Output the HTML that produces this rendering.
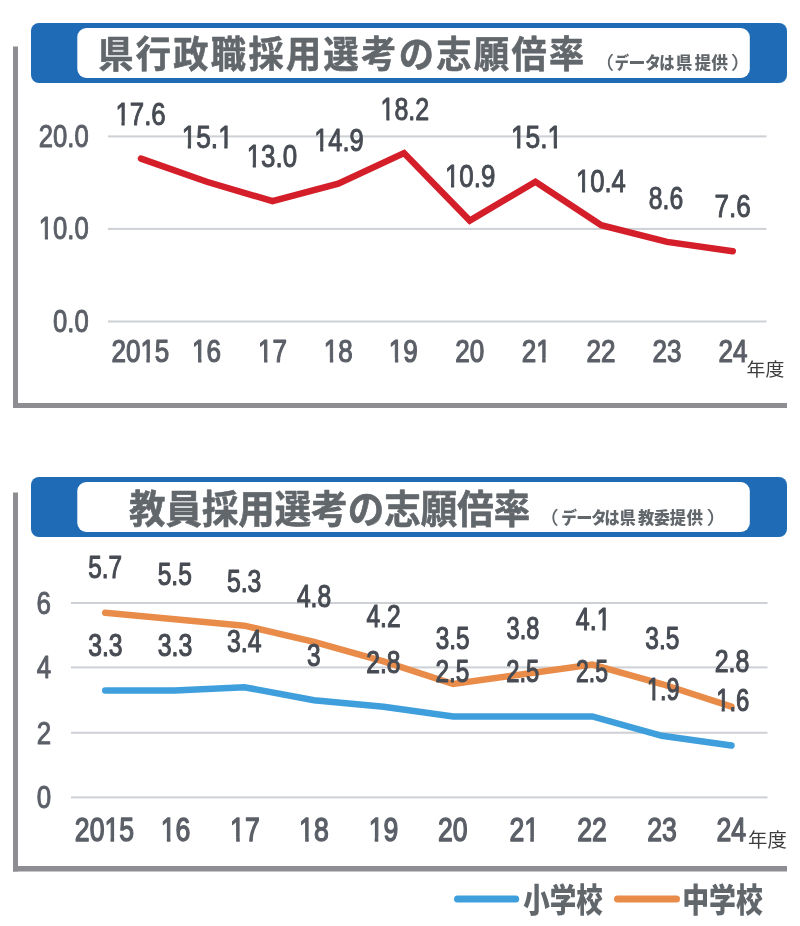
<!DOCTYPE html>
<html lang="ja">
<head>
<meta charset="utf-8">
<title>県行政職採用選考の志願倍率・教員採用選考の志願倍率</title>
<style>
html,body{margin:0;padding:0;background:#fff;}
body{width:800px;height:926px;overflow:hidden;font-family:"Liberation Sans","Noto Sans CJK JP",sans-serif;}
svg{display:block;}
text{white-space:pre;font-kerning:none;}
</style>
</head>
<body>
<svg width="800" height="926" viewBox="0 0 800 926">
<rect width="800" height="926" fill="#fff"/>
<rect x="13" y="46.5" width="5" height="361.5" fill="#8e8d92"/>
<rect x="13" y="403" width="774" height="5" fill="#8e8d92"/>
<rect x="31" y="23" width="756" height="60" rx="8" ry="8" fill="#1f6bb5"/>
<rect x="77.3" y="28" width="672.5" height="50" rx="9" ry="9" fill="#fff"/>
<text transform="translate(98.16 68.47) scale(0.9469 1)" font-family='"Liberation Sans", "Noto Sans CJK JP", sans-serif' font-size="37.15" font-weight="700" fill="#62676c" stroke="#62676c" stroke-width="0.6" stroke-linejoin="round" letter-spacing="2.55">県行政職採用選考の志願倍率</text>
<text y="69.30" font-family='"Liberation Sans", "Noto Sans CJK JP", sans-serif' font-size="16.60" fill="#62676c"><tspan x="594.45" textLength="19.64" lengthAdjust="spacingAndGlyphs" font-weight="500" font-size="18.00">（</tspan><tspan x="614.67" textLength="14.23" lengthAdjust="spacingAndGlyphs" font-weight="900">デ</tspan><tspan x="628.56" textLength="16.92" lengthAdjust="spacingAndGlyphs" font-weight="900">ー</tspan><tspan x="644.93" textLength="15.86" lengthAdjust="spacingAndGlyphs" font-weight="900">タ</tspan><tspan x="659.34" textLength="15.24" lengthAdjust="spacingAndGlyphs" font-weight="900">は</tspan><tspan x="675.97" textLength="16.23" lengthAdjust="spacingAndGlyphs" font-weight="900">県</tspan><tspan x="694.68" textLength="16.12" lengthAdjust="spacingAndGlyphs" font-weight="900">提</tspan><tspan x="711.39" textLength="16.67" lengthAdjust="spacingAndGlyphs" font-weight="900">供</tspan><tspan x="730.85" textLength="21.09" lengthAdjust="spacingAndGlyphs" font-weight="500" font-size="18.00">）</tspan></text>
<rect x="108" y="135.40" width="658.5" height="2" fill="#cdd0d4"/>
<rect x="108" y="227.90" width="658.5" height="2" fill="#cdd0d4"/>
<rect x="108" y="320.50" width="658.5" height="2" fill="#cdd0d4"/>
<polyline points="141.00,158.61 206.75,181.75 272.50,201.19 338.25,183.60 404.00,153.06 469.75,220.62 535.50,181.75 601.25,225.25 667.00,241.91 732.75,251.16" fill="none" stroke="#d41f2a" stroke-width="6.5" stroke-linecap="round" stroke-linejoin="miter"/>
<text transform="translate(38.82 146.90) scale(0.8050 1)" font-family='"Liberation Sans", "Noto Sans CJK JP", sans-serif' font-size="31.90" font-weight="400" fill="#5b5f67" stroke="#5b5f67" stroke-width="1.0" stroke-linejoin="round">20.0</text>
<clipPath id="c1"><rect x="-5" y="-31.90" width="72.09" height="28.50"/><rect x="-5.00" y="-3.40" width="4.93" height="12.97"/><rect x="7.52" y="-3.40" width="3.82" height="12.97"/><rect x="18.68" y="-3.40" width="48.40" height="12.97"/></clipPath>
<text transform="translate(38.82 239.40) scale(0.8050 1)" font-family='"Liberation Sans", "Noto Sans CJK JP", sans-serif' font-size="31.90" font-weight="400" fill="#5b5f67" stroke="#5b5f67" stroke-width="1.0" stroke-linejoin="round" clip-path="url(#c1)">10.0</text>
<text transform="translate(53.10 331.90) scale(0.8050 1)" font-family='"Liberation Sans", "Noto Sans CJK JP", sans-serif' font-size="31.90" font-weight="400" fill="#5b5f67" stroke="#5b5f67" stroke-width="1.0" stroke-linejoin="round">0.0</text>
<clipPath id="c2"><rect x="-5" y="-31.40" width="79.85" height="27.60"/><rect x="-5.00" y="-3.80" width="39.72" height="13.22"/><rect x="42.22" y="-3.80" width="3.98" height="13.22"/><rect x="53.46" y="-3.80" width="21.40" height="13.22"/></clipPath>
<text transform="translate(111.40 361.80) scale(0.8300 1)" font-family='"Liberation Sans", "Noto Sans CJK JP", sans-serif' font-size="31.40" font-weight="400" fill="#5b5f67" stroke="#5b5f67" stroke-width="1.2" stroke-linejoin="round" clip-path="url(#c2)">2015</text>
<clipPath id="c3"><rect x="-5" y="-31.40" width="44.93" height="27.60"/><rect x="-5.00" y="-3.80" width="4.79" height="13.22"/><rect x="7.30" y="-3.80" width="3.98" height="13.22"/><rect x="18.53" y="-3.80" width="21.40" height="13.22"/></clipPath>
<text transform="translate(192.07 361.80) scale(0.8300 1)" font-family='"Liberation Sans", "Noto Sans CJK JP", sans-serif' font-size="31.40" font-weight="400" fill="#5b5f67" stroke="#5b5f67" stroke-width="1.2" stroke-linejoin="round" clip-path="url(#c3)">16</text>
<clipPath id="c4"><rect x="-5" y="-31.40" width="44.93" height="27.60"/><rect x="-5.00" y="-3.80" width="4.79" height="13.22"/><rect x="7.30" y="-3.80" width="3.98" height="13.22"/><rect x="18.53" y="-3.80" width="21.40" height="13.22"/></clipPath>
<text transform="translate(258.01 361.80) scale(0.8300 1)" font-family='"Liberation Sans", "Noto Sans CJK JP", sans-serif' font-size="31.40" font-weight="400" fill="#5b5f67" stroke="#5b5f67" stroke-width="1.2" stroke-linejoin="round" clip-path="url(#c4)">17</text>
<clipPath id="c5"><rect x="-5" y="-31.40" width="44.93" height="27.60"/><rect x="-5.00" y="-3.80" width="4.79" height="13.22"/><rect x="7.30" y="-3.80" width="3.98" height="13.22"/><rect x="18.53" y="-3.80" width="21.40" height="13.22"/></clipPath>
<text transform="translate(323.82 361.80) scale(0.8300 1)" font-family='"Liberation Sans", "Noto Sans CJK JP", sans-serif' font-size="31.40" font-weight="400" fill="#5b5f67" stroke="#5b5f67" stroke-width="1.2" stroke-linejoin="round" clip-path="url(#c5)">18</text>
<clipPath id="c6"><rect x="-5" y="-31.40" width="44.93" height="27.60"/><rect x="-5.00" y="-3.80" width="4.79" height="13.22"/><rect x="7.30" y="-3.80" width="3.98" height="13.22"/><rect x="18.53" y="-3.80" width="21.40" height="13.22"/></clipPath>
<text transform="translate(388.87 361.80) scale(0.8300 1)" font-family='"Liberation Sans", "Noto Sans CJK JP", sans-serif' font-size="31.40" font-weight="400" fill="#5b5f67" stroke="#5b5f67" stroke-width="1.2" stroke-linejoin="round" clip-path="url(#c6)">19</text>
<text transform="translate(455.36 361.80) scale(0.8300 1)" font-family='"Liberation Sans", "Noto Sans CJK JP", sans-serif' font-size="31.40" font-weight="400" fill="#5b5f67" stroke="#5b5f67" stroke-width="1.2" stroke-linejoin="round">20</text>
<clipPath id="c7"><rect x="-5" y="-31.40" width="44.93" height="27.60"/><rect x="-5.00" y="-3.80" width="22.25" height="13.22"/><rect x="24.76" y="-3.80" width="3.98" height="13.22"/><rect x="35.99" y="-3.80" width="3.93" height="13.22"/></clipPath>
<text transform="translate(521.67 361.80) scale(0.8300 1)" font-family='"Liberation Sans", "Noto Sans CJK JP", sans-serif' font-size="31.40" font-weight="400" fill="#5b5f67" stroke="#5b5f67" stroke-width="1.2" stroke-linejoin="round" clip-path="url(#c7)">21</text>
<text transform="translate(586.51 361.80) scale(0.8300 1)" font-family='"Liberation Sans", "Noto Sans CJK JP", sans-serif' font-size="31.40" font-weight="400" fill="#5b5f67" stroke="#5b5f67" stroke-width="1.2" stroke-linejoin="round">22</text>
<text transform="translate(652.42 361.80) scale(0.8300 1)" font-family='"Liberation Sans", "Noto Sans CJK JP", sans-serif' font-size="31.40" font-weight="400" fill="#5b5f67" stroke="#5b5f67" stroke-width="1.2" stroke-linejoin="round">23</text>
<text transform="translate(718.53 361.80) scale(0.8300 1)" font-family='"Liberation Sans", "Noto Sans CJK JP", sans-serif' font-size="31.40" font-weight="400" fill="#5b5f67" stroke="#5b5f67" stroke-width="1.2" stroke-linejoin="round">24</text>
<text transform="translate(746.60 375.51) scale(1.0483 1)" font-family='"Liberation Sans", "Noto Sans CJK JP", sans-serif' font-size="18.01" font-weight="400" fill="#3c3c3c">年度</text>
<clipPath id="c8"><rect x="-5" y="-31.40" width="71.11" height="27.45"/><rect x="-5.00" y="-3.95" width="4.89" height="13.37"/><rect x="7.40" y="-3.95" width="3.78" height="13.37"/><rect x="18.43" y="-3.95" width="47.68" height="13.37"/></clipPath>
<text transform="translate(115.43 124.95) scale(0.8230 1)" font-family='"Liberation Sans", "Noto Sans CJK JP", sans-serif' font-size="31.40" font-weight="400" fill="#474b53" stroke="#474b53" stroke-width="1.0" stroke-linejoin="round" clip-path="url(#c8)">17.6</text>
<clipPath id="c9"><rect x="-5" y="-31.40" width="71.11" height="27.95"/><rect x="-5.00" y="-3.45" width="4.89" height="12.87"/><rect x="7.40" y="-3.45" width="3.78" height="12.87"/><rect x="18.43" y="-3.45" width="25.11" height="12.87"/><rect x="51.05" y="-3.45" width="3.78" height="12.87"/><rect x="62.08" y="-3.45" width="4.03" height="12.87"/></clipPath>
<text transform="translate(181.64 148.45) scale(0.8365 1)" font-family='"Liberation Sans", "Noto Sans CJK JP", sans-serif' font-size="31.40" font-weight="400" fill="#474b53" stroke="#474b53" stroke-width="1.0" stroke-linejoin="round" clip-path="url(#c9)">15.1</text>
<clipPath id="c10"><rect x="-5" y="-31.40" width="71.11" height="28.20"/><rect x="-5.00" y="-3.20" width="4.89" height="12.62"/><rect x="7.40" y="-3.20" width="3.78" height="12.62"/><rect x="18.43" y="-3.20" width="47.68" height="12.62"/></clipPath>
<text transform="translate(246.67 167.20) scale(0.8252 1)" font-family='"Liberation Sans", "Noto Sans CJK JP", sans-serif' font-size="31.40" font-weight="400" fill="#474b53" stroke="#474b53" stroke-width="1.0" stroke-linejoin="round" clip-path="url(#c10)">13.0</text>
<clipPath id="c11"><rect x="-5" y="-31.40" width="71.11" height="27.45"/><rect x="-5.00" y="-3.95" width="4.89" height="13.37"/><rect x="7.40" y="-3.95" width="3.78" height="13.37"/><rect x="18.43" y="-3.95" width="47.68" height="13.37"/></clipPath>
<text transform="translate(314.20 150.95) scale(0.8115 1)" font-family='"Liberation Sans", "Noto Sans CJK JP", sans-serif' font-size="31.40" font-weight="400" fill="#474b53" stroke="#474b53" stroke-width="1.0" stroke-linejoin="round" clip-path="url(#c11)">14.9</text>
<clipPath id="c12"><rect x="-5" y="-31.40" width="71.11" height="27.95"/><rect x="-5.00" y="-3.45" width="4.89" height="12.87"/><rect x="7.40" y="-3.45" width="3.78" height="12.87"/><rect x="18.43" y="-3.45" width="47.68" height="12.87"/></clipPath>
<text transform="translate(380.50 120.45) scale(0.7955 1)" font-family='"Liberation Sans", "Noto Sans CJK JP", sans-serif' font-size="31.40" font-weight="400" fill="#474b53" stroke="#474b53" stroke-width="1.0" stroke-linejoin="round" clip-path="url(#c12)">18.2</text>
<clipPath id="c13"><rect x="-5" y="-31.40" width="71.11" height="28.20"/><rect x="-5.00" y="-3.20" width="4.89" height="12.62"/><rect x="7.40" y="-3.20" width="3.78" height="12.62"/><rect x="18.43" y="-3.20" width="47.68" height="12.62"/></clipPath>
<text transform="translate(444.92 187.20) scale(0.8246 1)" font-family='"Liberation Sans", "Noto Sans CJK JP", sans-serif' font-size="31.40" font-weight="400" fill="#474b53" stroke="#474b53" stroke-width="1.0" stroke-linejoin="round" clip-path="url(#c13)">10.9</text>
<clipPath id="c14"><rect x="-5" y="-31.40" width="71.11" height="27.95"/><rect x="-5.00" y="-3.45" width="4.89" height="12.87"/><rect x="7.40" y="-3.45" width="3.78" height="12.87"/><rect x="18.43" y="-3.45" width="25.11" height="12.87"/><rect x="51.05" y="-3.45" width="3.78" height="12.87"/><rect x="62.08" y="-3.45" width="4.03" height="12.87"/></clipPath>
<text transform="translate(510.88 148.45) scale(0.8413 1)" font-family='"Liberation Sans", "Noto Sans CJK JP", sans-serif' font-size="31.40" font-weight="400" fill="#474b53" stroke="#474b53" stroke-width="1.0" stroke-linejoin="round" clip-path="url(#c14)">15.1</text>
<clipPath id="c15"><rect x="-5" y="-31.40" width="71.11" height="28.20"/><rect x="-5.00" y="-3.20" width="4.89" height="12.62"/><rect x="7.40" y="-3.20" width="3.78" height="12.62"/><rect x="18.43" y="-3.20" width="47.68" height="12.62"/></clipPath>
<text transform="translate(575.94 192.20) scale(0.8165 1)" font-family='"Liberation Sans", "Noto Sans CJK JP", sans-serif' font-size="31.40" font-weight="400" fill="#474b53" stroke="#474b53" stroke-width="1.0" stroke-linejoin="round" clip-path="url(#c15)">10.4</text>
<text transform="translate(648.82 208.70) scale(0.7875 1)" font-family='"Liberation Sans", "Noto Sans CJK JP", sans-serif' font-size="31.40" font-weight="400" fill="#474b53" stroke="#474b53" stroke-width="1.0" stroke-linejoin="round">8.6</text>
<text transform="translate(714.58 217.20) scale(0.8281 1)" font-family='"Liberation Sans", "Noto Sans CJK JP", sans-serif' font-size="31.40" font-weight="400" fill="#474b53" stroke="#474b53" stroke-width="1.0" stroke-linejoin="round">7.6</text>
<rect x="13" y="492.5" width="5" height="379.0" fill="#8e8d92"/>
<rect x="13" y="866" width="774" height="5.5" fill="#8e8d92"/>
<rect x="31" y="477" width="756" height="60" rx="8" ry="8" fill="#1f6bb5"/>
<rect x="77.3" y="482" width="672.5" height="50" rx="9" ry="9" fill="#fff"/>
<text transform="translate(128.94 523.04) scale(0.9473 1)" font-family='"Liberation Sans", "Noto Sans CJK JP", sans-serif' font-size="38.52" font-weight="700" fill="#62676c" stroke="#62676c" stroke-width="0.6" stroke-linejoin="round">教員採用選考の志願倍率</text>
<text y="524.40" font-family='"Liberation Sans", "Noto Sans CJK JP", sans-serif' font-size="16.60" fill="#62676c"><tspan x="538.70" textLength="20.00" lengthAdjust="spacingAndGlyphs" font-weight="500" font-size="18.00">（</tspan><tspan x="561.18" textLength="15.63" lengthAdjust="spacingAndGlyphs" font-weight="900">デ</tspan><tspan x="576.22" textLength="16.19" lengthAdjust="spacingAndGlyphs" font-weight="900">ー</tspan><tspan x="591.35" textLength="15.29" lengthAdjust="spacingAndGlyphs" font-weight="900">タ</tspan><tspan x="604.56" textLength="15.01" lengthAdjust="spacingAndGlyphs" font-weight="900">は</tspan><tspan x="619.68" textLength="16.02" lengthAdjust="spacingAndGlyphs" font-weight="900">県</tspan><tspan x="637.88" textLength="16.16" lengthAdjust="spacingAndGlyphs" font-weight="900">教</tspan><tspan x="653.88" textLength="15.92" lengthAdjust="spacingAndGlyphs" font-weight="900">委</tspan><tspan x="669.68" textLength="16.12" lengthAdjust="spacingAndGlyphs" font-weight="900">提</tspan><tspan x="686.39" textLength="16.46" lengthAdjust="spacingAndGlyphs" font-weight="900">供</tspan><tspan x="706.45" textLength="21.09" lengthAdjust="spacingAndGlyphs" font-weight="500" font-size="18.00">）</tspan></text>
<rect x="71" y="602.00" width="696.5" height="2" fill="#cdd0d4"/>
<rect x="71" y="666.40" width="696.5" height="2" fill="#cdd0d4"/>
<rect x="71" y="731.75" width="696.5" height="2" fill="#cdd0d4"/>
<rect x="71" y="796.40" width="696.5" height="2" fill="#cdd0d4"/>
<polyline points="105.25,690.48 174.83,690.48 244.41,687.24 313.99,700.20 383.57,706.68 453.15,716.40 522.73,716.40 592.31,716.40 661.89,735.84 731.47,745.56" fill="none" stroke="#3f9fdc" stroke-width="6.5" stroke-linecap="round" stroke-linejoin="miter"/>
<polyline points="105.25,612.72 174.83,619.20 244.41,625.68 313.99,641.88 383.57,661.32 453.15,684.00 522.73,674.28 592.31,664.56 661.89,684.00 731.47,706.68" fill="none" stroke="#e98c4a" stroke-width="6.5" stroke-linecap="round" stroke-linejoin="miter"/>
<text transform="translate(36.60 614.20) scale(0.8050 1)" font-family='"Liberation Sans", "Noto Sans CJK JP", sans-serif' font-size="32.20" font-weight="400" fill="#5b5f67" stroke="#5b5f67" stroke-width="1.0" stroke-linejoin="round">6</text>
<text transform="translate(36.77 677.95) scale(0.8050 1)" font-family='"Liberation Sans", "Noto Sans CJK JP", sans-serif' font-size="32.20" font-weight="400" fill="#5b5f67" stroke="#5b5f67" stroke-width="1.0" stroke-linejoin="round">4</text>
<text transform="translate(36.69 744.20) scale(0.8050 1)" font-family='"Liberation Sans", "Noto Sans CJK JP", sans-serif' font-size="32.20" font-weight="400" fill="#5b5f67" stroke="#5b5f67" stroke-width="1.0" stroke-linejoin="round">2</text>
<text transform="translate(36.69 807.95) scale(0.8050 1)" font-family='"Liberation Sans", "Noto Sans CJK JP", sans-serif' font-size="32.20" font-weight="400" fill="#5b5f67" stroke="#5b5f67" stroke-width="1.0" stroke-linejoin="round">0</text>
<clipPath id="c16"><rect x="-5" y="-33.30" width="84.08" height="29.80"/><rect x="-5.00" y="-3.50" width="41.88" height="13.49"/><rect x="44.71" y="-3.50" width="4.34" height="13.49"/><rect x="56.63" y="-3.50" width="22.45" height="13.49"/></clipPath>
<text transform="translate(74.86 840.50) scale(0.8000 1)" font-family='"Liberation Sans", "Noto Sans CJK JP", sans-serif' font-size="33.30" font-weight="400" fill="#5b5f67" stroke="#5b5f67" stroke-width="1.4" stroke-linejoin="round" clip-path="url(#c16)">2015</text>
<clipPath id="c17"><rect x="-5" y="-33.30" width="47.04" height="29.80"/><rect x="-5.00" y="-3.50" width="4.84" height="13.49"/><rect x="7.67" y="-3.50" width="4.34" height="13.49"/><rect x="19.59" y="-3.50" width="22.45" height="13.49"/></clipPath>
<text transform="translate(160.74 840.50) scale(0.8000 1)" font-family='"Liberation Sans", "Noto Sans CJK JP", sans-serif' font-size="33.30" font-weight="400" fill="#5b5f67" stroke="#5b5f67" stroke-width="1.4" stroke-linejoin="round" clip-path="url(#c17)">16</text>
<clipPath id="c18"><rect x="-5" y="-33.30" width="47.04" height="29.80"/><rect x="-5.00" y="-3.50" width="4.84" height="13.49"/><rect x="7.67" y="-3.50" width="4.34" height="13.49"/><rect x="19.59" y="-3.50" width="22.45" height="13.49"/></clipPath>
<text transform="translate(230.07 840.50) scale(0.8000 1)" font-family='"Liberation Sans", "Noto Sans CJK JP", sans-serif' font-size="33.30" font-weight="400" fill="#5b5f67" stroke="#5b5f67" stroke-width="1.4" stroke-linejoin="round" clip-path="url(#c18)">17</text>
<clipPath id="c19"><rect x="-5" y="-33.30" width="47.04" height="29.80"/><rect x="-5.00" y="-3.50" width="4.84" height="13.49"/><rect x="7.67" y="-3.50" width="4.34" height="13.49"/><rect x="19.59" y="-3.50" width="22.45" height="13.49"/></clipPath>
<text transform="translate(299.08 840.50) scale(0.8000 1)" font-family='"Liberation Sans", "Noto Sans CJK JP", sans-serif' font-size="33.30" font-weight="400" fill="#5b5f67" stroke="#5b5f67" stroke-width="1.4" stroke-linejoin="round" clip-path="url(#c19)">18</text>
<clipPath id="c20"><rect x="-5" y="-33.30" width="47.04" height="29.80"/><rect x="-5.00" y="-3.50" width="4.84" height="13.49"/><rect x="7.67" y="-3.50" width="4.34" height="13.49"/><rect x="19.59" y="-3.50" width="22.45" height="13.49"/></clipPath>
<text transform="translate(368.63 840.50) scale(0.8000 1)" font-family='"Liberation Sans", "Noto Sans CJK JP", sans-serif' font-size="33.30" font-weight="400" fill="#5b5f67" stroke="#5b5f67" stroke-width="1.4" stroke-linejoin="round" clip-path="url(#c20)">19</text>
<text transform="translate(438.03 840.50) scale(0.8000 1)" font-family='"Liberation Sans", "Noto Sans CJK JP", sans-serif' font-size="33.30" font-weight="400" fill="#5b5f67" stroke="#5b5f67" stroke-width="1.4" stroke-linejoin="round">20</text>
<clipPath id="c21"><rect x="-5" y="-33.30" width="47.04" height="29.80"/><rect x="-5.00" y="-3.50" width="23.36" height="13.49"/><rect x="26.19" y="-3.50" width="4.34" height="13.49"/><rect x="38.11" y="-3.50" width="3.93" height="13.49"/></clipPath>
<text transform="translate(509.40 840.50) scale(0.8000 1)" font-family='"Liberation Sans", "Noto Sans CJK JP", sans-serif' font-size="33.30" font-weight="400" fill="#5b5f67" stroke="#5b5f67" stroke-width="1.4" stroke-linejoin="round" clip-path="url(#c21)">21</text>
<text transform="translate(577.28 840.50) scale(0.8000 1)" font-family='"Liberation Sans", "Noto Sans CJK JP", sans-serif' font-size="33.30" font-weight="400" fill="#5b5f67" stroke="#5b5f67" stroke-width="1.4" stroke-linejoin="round">22</text>
<text transform="translate(647.30 840.50) scale(0.8000 1)" font-family='"Liberation Sans", "Noto Sans CJK JP", sans-serif' font-size="33.30" font-weight="400" fill="#5b5f67" stroke="#5b5f67" stroke-width="1.4" stroke-linejoin="round">23</text>
<text transform="translate(716.50 840.50) scale(0.8000 1)" font-family='"Liberation Sans", "Noto Sans CJK JP", sans-serif' font-size="33.30" font-weight="400" fill="#5b5f67" stroke="#5b5f67" stroke-width="1.4" stroke-linejoin="round">24</text>
<text transform="translate(748.08 847.43) scale(1.0138 1)" font-family='"Liberation Sans", "Noto Sans CJK JP", sans-serif' font-size="19.08" font-weight="400" fill="#3c3c3c">年度</text>
<text transform="translate(88.22 577.88) scale(0.7745 1)" font-family='"Liberation Sans", "Noto Sans CJK JP", sans-serif' font-size="31.40" font-weight="400" fill="#474b53" stroke="#474b53" stroke-width="1.15" stroke-linejoin="round">5.7</text>
<text transform="translate(157.72 585.38) scale(0.7815 1)" font-family='"Liberation Sans", "Noto Sans CJK JP", sans-serif' font-size="31.40" font-weight="400" fill="#474b53" stroke="#474b53" stroke-width="1.15" stroke-linejoin="round">5.5</text>
<text transform="translate(226.96 591.62) scale(0.7886 1)" font-family='"Liberation Sans", "Noto Sans CJK JP", sans-serif' font-size="31.40" font-weight="400" fill="#474b53" stroke="#474b53" stroke-width="1.15" stroke-linejoin="round">5.3</text>
<text transform="translate(296.89 607.38) scale(0.7843 1)" font-family='"Liberation Sans", "Noto Sans CJK JP", sans-serif' font-size="31.40" font-weight="400" fill="#474b53" stroke="#474b53" stroke-width="1.15" stroke-linejoin="round">4.8</text>
<text transform="translate(366.39 626.92) scale(0.7847 1)" font-family='"Liberation Sans", "Noto Sans CJK JP", sans-serif' font-size="31.40" font-weight="400" fill="#474b53" stroke="#474b53" stroke-width="1.15" stroke-linejoin="round">4.2</text>
<text transform="translate(435.77 649.33) scale(0.7745 1)" font-family='"Liberation Sans", "Noto Sans CJK JP", sans-serif' font-size="31.40" font-weight="400" fill="#474b53" stroke="#474b53" stroke-width="1.15" stroke-linejoin="round">3.5</text>
<text transform="translate(506.53 639.12) scale(0.7517 1)" font-family='"Liberation Sans", "Noto Sans CJK JP", sans-serif' font-size="31.40" font-weight="400" fill="#474b53" stroke="#474b53" stroke-width="1.15" stroke-linejoin="round">3.8</text>
<clipPath id="c22"><rect x="-5" y="-31.40" width="53.65" height="28.17"/><rect x="-5.00" y="-3.23" width="31.00" height="12.65"/><rect x="33.51" y="-3.23" width="3.93" height="12.65"/><rect x="44.69" y="-3.23" width="3.96" height="12.65"/></clipPath>
<text transform="translate(575.78 630.23) scale(0.7965 1)" font-family='"Liberation Sans", "Noto Sans CJK JP", sans-serif' font-size="31.40" font-weight="400" fill="#474b53" stroke="#474b53" stroke-width="1.15" stroke-linejoin="round" clip-path="url(#c22)">4.1</text>
<text transform="translate(645.27 649.33) scale(0.7804 1)" font-family='"Liberation Sans", "Noto Sans CJK JP", sans-serif' font-size="31.40" font-weight="400" fill="#474b53" stroke="#474b53" stroke-width="1.15" stroke-linejoin="round">3.5</text>
<text transform="translate(714.70 672.38) scale(0.7944 1)" font-family='"Liberation Sans", "Noto Sans CJK JP", sans-serif' font-size="31.40" font-weight="400" fill="#474b53" stroke="#474b53" stroke-width="1.15" stroke-linejoin="round">2.8</text>
<text transform="translate(88.26 656.12) scale(0.7875 1)" font-family='"Liberation Sans", "Noto Sans CJK JP", sans-serif' font-size="31.40" font-weight="400" fill="#474b53" stroke="#474b53" stroke-width="1.15" stroke-linejoin="round">3.3</text>
<text transform="translate(157.76 656.12) scale(0.7934 1)" font-family='"Liberation Sans", "Noto Sans CJK JP", sans-serif' font-size="31.40" font-weight="400" fill="#474b53" stroke="#474b53" stroke-width="1.15" stroke-linejoin="round">3.3</text>
<text transform="translate(227.01 652.38) scale(0.7907 1)" font-family='"Liberation Sans", "Noto Sans CJK JP", sans-serif' font-size="31.40" font-weight="400" fill="#474b53" stroke="#474b53" stroke-width="1.15" stroke-linejoin="round">3.4</text>
<text transform="translate(307.02 665.88) scale(0.7794 1)" font-family='"Liberation Sans", "Noto Sans CJK JP", sans-serif' font-size="31.40" font-weight="400" fill="#474b53" stroke="#474b53" stroke-width="1.15" stroke-linejoin="round">3</text>
<text transform="translate(366.21 672.73) scale(0.7848 1)" font-family='"Liberation Sans", "Noto Sans CJK JP", sans-serif' font-size="31.40" font-weight="400" fill="#474b53" stroke="#474b53" stroke-width="1.15" stroke-linejoin="round">2.8</text>
<text transform="translate(435.47 681.73) scale(0.7756 1)" font-family='"Liberation Sans", "Noto Sans CJK JP", sans-serif' font-size="31.40" font-weight="400" fill="#474b53" stroke="#474b53" stroke-width="1.15" stroke-linejoin="round">2.5</text>
<text transform="translate(506.24 681.73) scale(0.7577 1)" font-family='"Liberation Sans", "Noto Sans CJK JP", sans-serif' font-size="31.40" font-weight="400" fill="#474b53" stroke="#474b53" stroke-width="1.15" stroke-linejoin="round">2.5</text>
<text transform="translate(576.02 681.73) scale(0.7315 1)" font-family='"Liberation Sans", "Noto Sans CJK JP", sans-serif' font-size="31.40" font-weight="400" fill="#474b53" stroke="#474b53" stroke-width="1.15" stroke-linejoin="round">2.5</text>
<clipPath id="c23"><rect x="-5" y="-31.40" width="53.65" height="28.02"/><rect x="-5.00" y="-3.38" width="4.82" height="12.79"/><rect x="7.32" y="-3.38" width="3.93" height="12.79"/><rect x="18.50" y="-3.38" width="30.15" height="12.79"/></clipPath>
<text transform="translate(646.93 700.38) scale(0.7446 1)" font-family='"Liberation Sans", "Noto Sans CJK JP", sans-serif' font-size="31.40" font-weight="400" fill="#474b53" stroke="#474b53" stroke-width="1.15" stroke-linejoin="round" clip-path="url(#c23)">1.9</text>
<clipPath id="c24"><rect x="-5" y="-31.40" width="53.65" height="27.52"/><rect x="-5.00" y="-3.88" width="4.82" height="13.29"/><rect x="7.32" y="-3.88" width="3.93" height="13.29"/><rect x="18.50" y="-3.88" width="30.15" height="13.29"/></clipPath>
<text transform="translate(716.14 710.88) scale(0.7611 1)" font-family='"Liberation Sans", "Noto Sans CJK JP", sans-serif' font-size="31.40" font-weight="400" fill="#474b53" stroke="#474b53" stroke-width="1.15" stroke-linejoin="round" clip-path="url(#c24)">1.6</text>
<line x1="457.5" y1="899" x2="515.7" y2="899" stroke="#3f9fdc" stroke-width="7" stroke-linecap="round"/>
<line x1="617.5" y1="899" x2="676.5" y2="899" stroke="#e98c4a" stroke-width="7" stroke-linecap="round"/>
<text transform="translate(523.24 912.18) scale(0.7987 1)" font-family='"Liberation Sans", "Noto Sans CJK JP", sans-serif' font-size="33.25" font-weight="900" fill="#62676c">小学校</text>
<text transform="translate(682.18 912.18) scale(0.8093 1)" font-family='"Liberation Sans", "Noto Sans CJK JP", sans-serif' font-size="33.25" font-weight="900" fill="#62676c">中学校</text>
</svg>
</body>
</html>
